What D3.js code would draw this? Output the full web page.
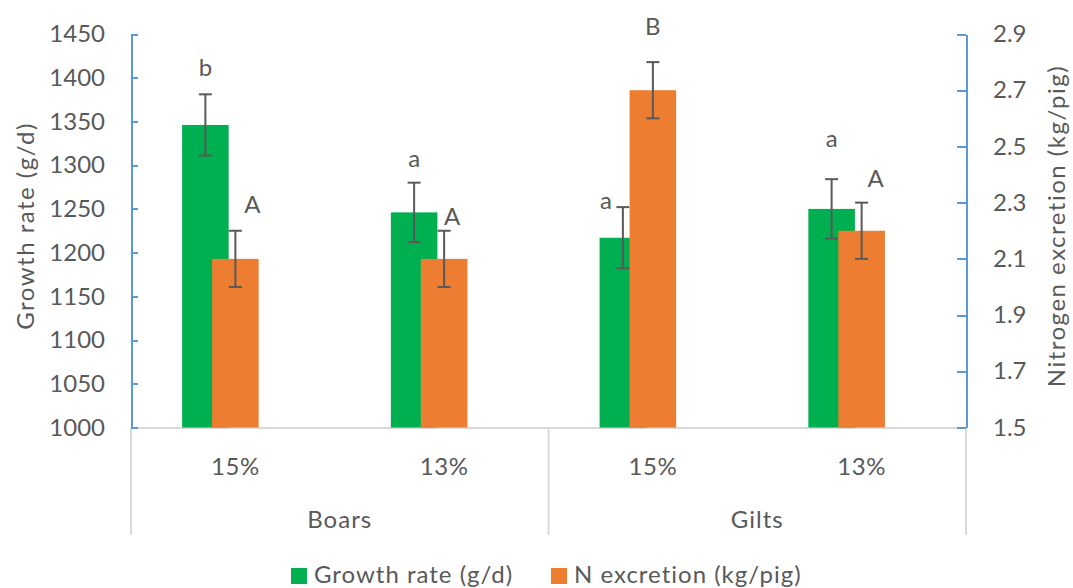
<!DOCTYPE html>
<html>
<head>
<meta charset="utf-8">
<script src="https://cdn.jsdelivr.net/npm/d3@7"></script>
<style>
  html, body { margin: 0; padding: 0; background: #fff; }
  svg text { font-family: Lato, "Open Sans", sans-serif; fill: #595959; }
</style>
</head>
<body>
<svg id="chart" width="1073" height="588"></svg>
<script>
// Treatments: dietary crude protein level within each sex
const groups = ["Boars", "Gilts"];
const levels = ["15%", "13%", "15%", "13%"];
const categoryGroup = ["Boars", "Boars", "Gilts", "Gilts"];

// Growth rate (g/d), primary axis
const growthRate = [1346, 1246, 1217, 1250];
const growthErr = [35, 34, 35, 34];
const growthLetters = ["b", "a", "a", "a"];

// N excretion (kg/pig), secondary axis
const nExcretion = [2.10, 2.10, 2.70, 2.20];
const nErr = [0.10, 0.10, 0.10, 0.10];
const nLetters = ["A", "A", "B", "A"];

const leftTicks = [1000, 1050, 1100, 1150, 1200, 1250, 1300, 1350, 1400, 1450];
const rightTicks = [1.5, 1.7, 1.9, 2.1, 2.3, 2.5, 2.7, 2.9];

const GREEN = "#00B050", ORANGE = "#ED7D31", AXIS_BLUE = "#5B9BD5", GRID = "#D9D9D9", ERR = "#595959";
const FS = 24;

const svg = d3.select("#chart");
const plot = { left: 131, right: 966, top: 34, bottom: 427.5 };

const x = d3.scaleBand().domain(d3.range(levels.length)).range([plot.left, plot.right]).padding(0);
const yL = d3.scaleLinear().domain([1000, 1450]).range([plot.bottom, plot.top]);
const yR = d3.scaleLinear().domain([1.5, 2.9]).range([plot.bottom, plot.top]);

const barW = x.bandwidth() * 0.223;
const greenShift = -30;   // primary series sits left of the secondary one, overlapping it

// label placement tweaks (px) relative to the error-bar top
const gLabelDx = [0, 0, -17, 0], gLabelDy = [28, 25, 8, 42];
const nLabelDx = [17, 8, 0, 14], nLabelDy = [27, 15, 37, 25];

// category axis line and separators
svg.append("line").attr("x1", plot.left).attr("x2", plot.right)
  .attr("y1", plot.bottom + 0.5).attr("y2", plot.bottom + 0.5)
  .attr("stroke", GRID).attr("stroke-width", 2);
[plot.left, (plot.left + plot.right) / 2, plot.right].forEach(px => {
  svg.append("line").attr("x1", px).attr("x2", px)
    .attr("y1", plot.bottom).attr("y2", 535)
    .attr("stroke", GRID).attr("stroke-width", 2);
});

// green bars
svg.append("g").selectAll("rect").data(growthRate).join("rect")
  .attr("x", (d, i) => x(i) + x.bandwidth() / 2 - barW / 2 + greenShift)
  .attr("y", d => yL(d))
  .attr("width", barW)
  .attr("height", d => yL(1000) - yL(d))
  .attr("fill", GREEN);

// green error bars
const ge = svg.append("g").attr("stroke", ERR).attr("stroke-width", 2);
growthRate.forEach((v, i) => {
  const cx = x(i) + x.bandwidth() / 2 + greenShift;
  const t = yL(v + growthErr[i]), b = yL(v - growthErr[i]);
  ge.append("line").attr("x1", cx).attr("x2", cx).attr("y1", t).attr("y2", b);
  ge.append("line").attr("x1", cx - 6.5).attr("x2", cx + 6.5).attr("y1", t).attr("y2", t);
  ge.append("line").attr("x1", cx - 6.5).attr("x2", cx + 6.5).attr("y1", b).attr("y2", b);
});

// orange bars
svg.append("g").selectAll("rect").data(nExcretion).join("rect")
  .attr("x", (d, i) => x(i) + x.bandwidth() / 2 - barW / 2)
  .attr("y", d => yR(d))
  .attr("width", barW)
  .attr("height", d => yR(1.5) - yR(d))
  .attr("fill", ORANGE);

const oe = svg.append("g").attr("stroke", ERR).attr("stroke-width", 2);
nExcretion.forEach((v, i) => {
  const cx = x(i) + x.bandwidth() / 2;
  const t = yR(v + nErr[i]), b = yR(v - nErr[i]);
  oe.append("line").attr("x1", cx).attr("x2", cx).attr("y1", t).attr("y2", b);
  oe.append("line").attr("x1", cx - 6.5).attr("x2", cx + 6.5).attr("y1", t).attr("y2", t);
  oe.append("line").attr("x1", cx - 6.5).attr("x2", cx + 6.5).attr("y1", b).attr("y2", b);
});

// significance letters
growthLetters.forEach((s, i) => {
  svg.append("text")
    .attr("x", x(i) + x.bandwidth() / 2 + greenShift + gLabelDx[i])
    .attr("y", yL(growthRate[i] + growthErr[i]) - gLabelDy[i])
    .attr("text-anchor", "middle").attr("dominant-baseline", "central")
    .attr("font-size", FS).text(s);
});
nLetters.forEach((s, i) => {
  svg.append("text")
    .attr("x", x(i) + x.bandwidth() / 2 + nLabelDx[i])
    .attr("y", yR(nExcretion[i] + nErr[i]) - nLabelDy[i])
    .attr("text-anchor", "middle").attr("dominant-baseline", "central")
    .attr("font-size", FS).text(s);
});

// left axis
const axL = svg.append("g").attr("transform", `translate(${plot.left},0)`)
  .call(d3.axisLeft(yL).tickValues(leftTicks).tickSizeInner(-7).tickSizeOuter(0).tickPadding(26).tickFormat(d3.format("d")));
axL.select(".domain").attr("stroke", AXIS_BLUE).attr("stroke-width", 2);
axL.selectAll(".tick line").attr("stroke", AXIS_BLUE).attr("stroke-width", 2);
axL.selectAll(".tick text").attr("font-size", FS).attr("fill", "#595959");

// right axis
const axR = svg.append("g").attr("transform", `translate(${plot.right},0)`)
  .call(d3.axisRight(yR).tickValues(rightTicks).tickSizeInner(-9).tickSizeOuter(0).tickPadding(27).tickFormat(d3.format(".1f")));
axR.select(".domain").attr("stroke", AXIS_BLUE).attr("stroke-width", 2);
axR.selectAll(".tick line").attr("stroke", AXIS_BLUE).attr("stroke-width", 2);
axR.selectAll(".tick text").attr("font-size", FS).attr("fill", "#595959");
svg.selectAll(".domain, .tick line").attr("shape-rendering", "crispEdges");

// axis titles
svg.append("text").attr("transform", "translate(24,226) rotate(-90)")
  .attr("text-anchor", "middle").attr("dominant-baseline", "central")
  .attr("font-size", FS).attr("letter-spacing", 1.5).text("Growth rate (g/d)");
svg.append("text").attr("transform", "translate(1055,226) rotate(-90)")
  .attr("text-anchor", "middle").attr("dominant-baseline", "central")
  .attr("font-size", FS).attr("letter-spacing", 1.5).text("Nitrogen excretion (kg/pig)");

// category labels
levels.forEach((s, i) => {
  svg.append("text").attr("x", x(i) + x.bandwidth() / 2).attr("y", 465)
    .attr("text-anchor", "middle").attr("dominant-baseline", "central")
    .attr("font-size", FS).attr("letter-spacing", 0.5).text(s);
});
groups.forEach(g => {
  const idx = d3.range(levels.length).filter(i => categoryGroup[i] === g);
  const cx = (x(idx[0]) + x(idx[idx.length - 1]) + x.bandwidth()) / 2;
  svg.append("text").attr("x", cx).attr("y", 518)
    .attr("text-anchor", "middle").attr("dominant-baseline", "central")
    .attr("font-size", FS).attr("letter-spacing", 1).text(g);
});

// legend
const legend = [
  { label: "Growth rate (g/d)", color: GREEN, x: 291 },
  { label: "N excretion (kg/pig)", color: ORANGE, x: 551 }
];
legend.forEach(l => {
  svg.append("rect").attr("x", l.x).attr("y", 568).attr("width", 16).attr("height", 16).attr("fill", l.color);
  svg.append("text").attr("x", l.x + 23).attr("y", 583)
    .attr("font-size", FS).attr("letter-spacing", 1).text(l.label);
});
</script>
</body>
</html>
